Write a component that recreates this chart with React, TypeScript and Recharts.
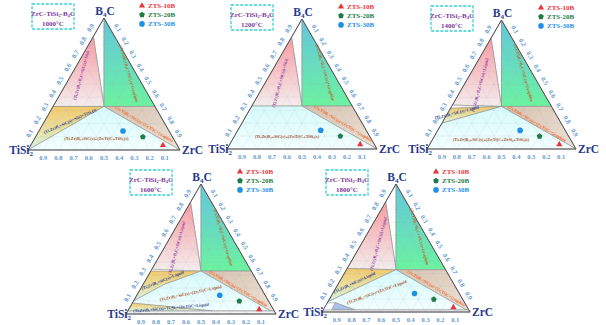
import React from "react"
import { Scatter, ScatterChart, XAxis, YAxis } from "recharts"

// compositions are [B4C, ZrC] fractions, TiSi2 is the remainder
type Comp = [number, number]

const H = Math.sqrt(3) / 2
const SERIF = "'Liberation Serif', 'DejaVu Serif', serif"

const temperatures = ["1000°C", "1200°C", "1400°C", "1600°C", "1800°C"]
const tickValues = [0.1, 0.2, 0.3, 0.4, 0.5, 0.6, 0.7, 0.8, 0.9]

const sampleNames = ["ZTS-10B", "ZTS-20B", "ZTS-30B"]
const sampleB4C = [0.038, 0.099, 0.144]
const sampleZrC = [0.869, 0.706, 0.553]

const vertexNames = ["TiSi2", "B4C", "ZrC"]

// phase field corners
const TOP: Comp = [1, 0]
const TISI2: Comp = [0, 0]
const ZRC: Comp = [0, 1]
const MID: Comp = [0.33, 0.335]
const MID_R: Comp = [0.33, 0.67]
const PINK_TOP: Comp = [0.86, 0]

type Field = { kind: string; pts: Comp[] }

const upper = (pinkLow: number): Field[] => [
  { kind: "wedge", pts: [TOP, PINK_TOP, MID] },
  { kind: "pink", pts: [PINK_TOP, [pinkLow, 0], MID] },
  { kind: "green", pts: [TOP, MID, MID_R] },
  { kind: "brown", pts: [MID, MID_R, ZRC] },
]

const fields1000: Field[] = [
  ...upper(0.33),
  { kind: "yellow", pts: [[0.33, 0], MID, TISI2] },
  { kind: "cyan", pts: [TISI2, MID, ZRC] },
]
const fields1200: Field[] = [
  ...upper(0.33),
  { kind: "cyan", pts: [[0.33, 0], MID, ZRC, TISI2] },
]
const fields1400: Field[] = [
  ...upper(0.34),
  { kind: "wedge", pts: [[0.34, 0], [0.315, 0], MID] },
  { kind: "yellow", pts: [[0.315, 0], MID, [0.2, 0]] },
  { kind: "cyan", pts: [[0.2, 0], MID, ZRC, TISI2] },
]
const fields1600: Field[] = [
  ...upper(0.345),
  { kind: "yellow", pts: [[0.33, 0], MID, [0.225, 0.1375], [0.1, 0]] },
  { kind: "cyan", pts: [[0.1, 0], [0.225, 0.1375], MID, ZRC, [0.023, 0.977], [0.023, 0.568], [0.084, 0]] },
  { kind: "yellow", pts: [[0.084, 0], [0.023, 0.568], [0.023, 0]] },
  { kind: "strip", pts: [[0.023, 0], [0.023, 0.977], ZRC, TISI2] },
]
const fields1800: Field[] = [
  ...upper(0.34),
  { kind: "yellow", pts: [[0.34, 0], MID, [0.08, 0]] },
  { kind: "cyan", pts: [[0.08, 0], MID, ZRC, [0.016, 0.984], [0.016, 0.215], [0.073, 0.052], [0.07, 0]] },
  { kind: "blue", pts: [[0.073, 0.052], [0.016, 0.215], [0.016, 0.057]] },
  { kind: "strip", pts: [[0.016, 0], [0.016, 0.984], ZRC, TISI2] },
]

const TXT = {
  pink: "#9a3fa6",
  green: "#bb6a2c",
  brown: "#f0661c",
  yellow: "#2b3d8a",
  cyan: "#a4522a",
}

const BORIDE_SI = "(Ti,Zr)B₂+B₄C+SiC(s)+Si(s)"
const BORIDE_LIQ = "(Ti,Zr)B₂+B₄C+SiC(s)+Liquid"
const GREEN_TXT = "(Zr,Ti)B₂+B₄C+SiC(s)+Graphite"
const BROWN_TXT = "(Zr,Ti)B₂+SiC(s)+(Zr,Ti)C+Graphite"

// annotation layout, plot units
const labels1000 = [
  { text: BORIDE_SI, x: 0.35, y: 0.49, rot: -75, color: TXT.pink },
  { text: GREEN_TXT, x: 0.665, y: 0.5, rot: 74, color: TXT.green },
  { text: BROWN_TXT, x: 0.765, y: 0.17, rot: 31, color: TXT.brown },
  { text: "(Ti,Zr)B₂+SiC(s)+Si(s)+TiSi₂(s)", x: 0.276, y: 0.19, rot: -24, color: TXT.yellow },
  { text: "(Ti,Zr)B₂+SiC(s)+(Zr,Ti)C+TiSi₂(s)", x: 0.45, y: 0.075, rot: 0, color: TXT.cyan },
]
const labels1200 = [
  { text: BORIDE_SI, x: 0.353, y: 0.44, rot: -75, color: TXT.pink },
  { text: GREEN_TXT, x: 0.655, y: 0.51, rot: 74, color: TXT.green },
  { text: BROWN_TXT, x: 0.776, y: 0.17, rot: 31, color: TXT.brown },
  { text: "(Ti,Zr)B₂+SiC(s)+(Zr,Ti)C+TiSi₂(s)", x: 0.4, y: 0.085, rot: 0, color: TXT.cyan },
]
const labels1400 = [
  { text: BORIDE_LIQ, x: 0.356, y: 0.43, rot: -75, color: TXT.pink },
  { text: GREEN_TXT, x: 0.65, y: 0.51, rot: 74, color: TXT.green },
  { text: BROWN_TXT, x: 0.74, y: 0.17, rot: 31, color: TXT.brown },
  { text: "(Ti,Zr)B₂+SiC(s)+Liquid", x: 0.2, y: 0.245, rot: -14, color: TXT.yellow },
  { text: "(Ti,Zr)B₂+SiC(s)+(Zr,Ti)C+ZrSi₂+TiSi₂(s)", x: 0.43, y: 0.065, rot: 0, color: TXT.cyan },
]
const labels1600 = [
  { text: BORIDE_LIQ, x: 0.338, y: 0.44, rot: -75, color: TXT.pink },
  { text: GREEN_TXT, x: 0.65, y: 0.51, rot: 74, color: TXT.green },
  { text: BROWN_TXT, x: 0.75, y: 0.17, rot: 31, color: TXT.brown },
  { text: "(Ti,Zr)B₂+SiC(s)+Liquid", x: 0.245, y: 0.225, rot: -22, color: TXT.yellow },
  { text: "(Ti,Zr)B₂+SiC(s)+(Zr,Ti)C+Liquid", x: 0.43, y: 0.14, rot: -12, color: TXT.cyan },
  { text: "(Ti,Zr)B₂+SiC(s)+Ti₅Si₃+(Zr,Ti)C+Liquid", x: 0.3, y: 0.042, rot: -5, color: TXT.yellow },
]
const labels1800 = [
  { text: BORIDE_LIQ, x: 0.38, y: 0.46, rot: -75, color: TXT.pink },
  { text: GREEN_TXT, x: 0.66, y: 0.51, rot: 74, color: TXT.green },
  { text: BROWN_TXT, x: 0.775, y: 0.16, rot: 31, color: TXT.brown },
  { text: "(Ti,Zr)B₂+SiC(s)+Liquid", x: 0.22, y: 0.2, rot: -25, color: TXT.yellow },
  { text: "(Ti,Zr)B₂+SiC(s)+(Zr,Ti)C+Liquid", x: 0.37, y: 0.135, rot: -20, color: TXT.cyan },
]

const fieldsByPanel = [fields1000, fields1200, fields1400, fields1600, fields1800]
const labelsByPanel = [labels1000, labels1200, labels1400, labels1600, labels1800]

// where each diagram sits on the page
const panelBoxes = [
  { left: 1, top: 0, base: 152 },
  { left: 200, top: 1, base: 150 },
  { left: 400, top: 2, base: 149 },
  { left: 99, top: 166, base: 150 },
  { left: 295, top: 166, base: 148 },
]

const toXY = ([b, z]: Comp) => ({ x: z + b / 2, y: b * H })
const closed = (pts: Comp[]) => [...pts, pts[0]].map(toXY)

const sampleColors = ["#e8353b", "#1f7c47", "#1e90e6"]

function Marker({ i, cx, cy }: { i: number; cx: number; cy: number }) {
  if (i === 0) {
    return <polygon points={`${cx},${cy - 3.3} ${cx + 3.1},${cy + 2.1} ${cx - 3.1},${cy + 2.1}`} fill={sampleColors[0]} />
  }
  if (i === 1) {
    const pts = [0, 1, 2, 3, 4]
      .map((k) => {
        const a = -Math.PI / 2 + (k * 2 * Math.PI) / 5
        return `${cx + 3 * Math.cos(a)},${cy + 3 * Math.sin(a)}`
      })
      .join(" ")
    return <polygon points={pts} fill={sampleColors[1]} />
  }
  return <circle cx={cx} cy={cy} r={2.8} fill={sampleColors[2]} />
}

const noDot = () => <g />

const fieldLabel = (p: any) => {
  const d = p.payload
  return (
    <text
      x={p.cx}
      y={p.cy}
      transform={`rotate(${d.rot} ${p.cx} ${p.cy})`}
      textAnchor="middle"
      dominantBaseline="central"
      fontSize={4.3}
      fontWeight={700}
      fontFamily={SERIF}
      fill={d.color}
    >
      {d.text}
    </text>
  )
}

const tickText = (dx: number, dy: number, rot: number) => (p: any) => {
  const x = p.cx + dx
  const y = p.cy + dy
  return (
    <text
      x={x}
      y={y}
      transform={rot ? `rotate(${rot} ${x} ${y})` : undefined}
      textAnchor="middle"
      dominantBaseline="central"
      fontSize={6.5}
      fontWeight={700}
      fontFamily={SERIF}
      fill="#6399cf"
    >
      {p.payload.v.toFixed(1)}
    </text>
  )
}

const vertexLabel = (p: any) => {
  const name = p.payload.name
  const common = { fontSize: 11.5, fontWeight: 700, fontFamily: SERIF, fill: "#283a8c" }
  if (name === "B4C") {
    return (
      <text x={p.cx + 1} y={p.cy - 3} textAnchor="middle" {...common}>
        B<tspan fontSize={7} dy={2}>4</tspan>
        <tspan dy={-2}>C</tspan>
      </text>
    )
  }
  if (name === "TiSi2") {
    return (
      <text x={p.cx + 5} y={p.cy + 4} textAnchor="end" {...common}>
        TiSi<tspan fontSize={7} dy={2}>2</tspan>
      </text>
    )
  }
  return (
    <text x={p.cx + 2} y={p.cy + 4} textAnchor="start" {...common}>
      {name}
    </text>
  )
}

const fillFor = (id: string, kind: string) => {
  if (kind === "wedge") return "#ffffff"
  if (kind === "strip") return "#f3f3f3"
  if (kind === "blue") return "#a8c2ea"
  return `url(#${id}-${kind})`
}

function TernaryPanel({ idx }: { idx: number }) {
  const box = panelBoxes[idx]
  const id = `p${idx}`
  const width = box.base + 50
  const height = Math.round(box.base * H) + 32
  const fields = fieldsByPanel[idx]

  const grid: { x: number; y: number }[][] = []
  tickValues.forEach((t) => {
    grid.push([toXY([t, 0]), toXY([t, 1 - t])])
    grid.push([toXY([0, t]), toXY([1 - t, t])])
    grid.push([toXY([1 - t, 0]), toXY([0, 1 - t])])
  })

  const leftTicks = tickValues.map((v) => ({ ...toXY([v, 0]), v }))
  const rightTicks = tickValues.map((v) => ({ ...toXY([1 - v, v]), v }))
  const bottomTicks = tickValues.map((v) => ({ ...toXY([0, 1 - v]), v }))
  const vertices = [TISI2, TOP, ZRC].map((c, i) => ({ ...toXY(c), name: vertexNames[i] }))

  return (
    <div style={{ position: "absolute", left: box.left, top: box.top, width, height }}>
      <ScatterChart width={width} height={height} margin={{ top: 18, right: 23, bottom: 14, left: 27 }}>
        <defs>
          <linearGradient id={`${id}-pink`} x1="0" y1="0" x2="0" y2="1">
            <stop offset="0" stopColor="#f89ca3" />
            <stop offset="1" stopColor="#f4eded" />
          </linearGradient>
          <linearGradient id={`${id}-green`} x1="0" y1="0" x2="0" y2="1">
            <stop offset="0" stopColor="#63c6dc" />
            <stop offset="0.5" stopColor="#67dcc0" />
            <stop offset="1" stopColor="#6cf39f" />
          </linearGradient>
          <linearGradient id={`${id}-brown`} x1="0" y1="0" x2="1" y2="1">
            <stop offset="0" stopColor="#d7c2af" />
            <stop offset="1" stopColor="#eee3d8" />
          </linearGradient>
          <linearGradient id={`${id}-yellow`} x1="0" y1="0" x2="0" y2="1">
            <stop offset="0" stopColor="#f2c96c" />
            <stop offset="0.6" stopColor="#e8e4aa" />
            <stop offset="1" stopColor="#d2f2ea" />
          </linearGradient>
          <linearGradient id={`${id}-cyan`} x1="0" y1="0" x2="0" y2="1">
            <stop offset="0" stopColor="#d6fafb" />
            <stop offset="1" stopColor="#f3fefe" />
          </linearGradient>
        </defs>
        <XAxis type="number" dataKey="x" domain={[0, 1]} hide />
        <YAxis type="number" dataKey="y" domain={[0, H]} hide />
        {fields.map((f, i) => (
          <Scatter
            key={`f${i}`}
            data={closed(f.pts)}
            line={{ fill: fillFor(id, f.kind), stroke: "#909090", strokeWidth: 0.6 }}
            shape={noDot}
            isAnimationActive={false}
          />
        ))}
        {grid.map((g, i) => (
          <Scatter
            key={`g${i}`}
            data={g}
            line={{ stroke: "#9aaabb", strokeWidth: 0.4, strokeOpacity: 0.3 }}
            shape={noDot}
            isAnimationActive={false}
          />
        ))}
        <Scatter
          data={closed([TISI2, TOP, ZRC])}
          line={{ fill: "none", stroke: "#505050", strokeWidth: 1 }}
          shape={noDot}
          isAnimationActive={false}
        />
        <Scatter data={labelsByPanel[idx]} shape={fieldLabel} isAnimationActive={false} />
        <Scatter data={leftTicks} shape={tickText(-6.3, -3.6, -60)} isAnimationActive={false} />
        <Scatter data={rightTicks} shape={tickText(6.3, -3.6, 60)} isAnimationActive={false} />
        <Scatter data={bottomTicks} shape={tickText(0, 7, 0)} isAnimationActive={false} />
        <Scatter data={vertices} shape={vertexLabel} isAnimationActive={false} />
        {sampleNames.map((name, i) => (
          <Scatter
            key={name}
            name={name}
            data={[toXY([sampleB4C[i], sampleZrC[i]])]}
            shape={(p: any) => <Marker i={i} cx={p.cx} cy={p.cy} />}
            isAnimationActive={false}
          />
        ))}
      </ScatterChart>
      <svg width={width} height={40} style={{ position: "absolute", left: 0, top: 0, overflow: "visible" }}>
        <rect x={31} y={4} width={42} height={25} fill="none" stroke="#34cfd2" strokeWidth={1.3} strokeDasharray="3 1.6" />
        <text x={52} y={15.5} textAnchor="middle" fontSize={7} fontWeight={700} fontFamily={SERIF} fill="#7e3a9c">
          ZrC-TiSi<tspan fontSize={4.5} dy={1.5}>2</tspan>
          <tspan dy={-1.5}>-B</tspan>
          <tspan fontSize={4.5} dy={1.5}>4</tspan>
          <tspan dy={-1.5}>C</tspan>
        </text>
        <text x={52} y={26} textAnchor="middle" fontSize={7} fontWeight={700} fontFamily={SERIF} fill="#7e3a9c">
          {temperatures[idx]}
        </text>
        {sampleNames.map((name, i) => (
          <g key={name}>
            <Marker i={i} cx={141} cy={5.5 + i * 9.2} />
            <text x={147} y={8 + i * 9.2} fontSize={7} fontWeight={700} fontFamily={SERIF} fill={sampleColors[i]}>
              {name}
            </text>
          </g>
        ))}
      </svg>
    </div>
  )
}

export default function App() {
  return (
    <div style={{ position: "relative", width: 606, height: 325, background: "#ffffff", overflow: "hidden" }}>
      <style>{"body{margin:0}"}</style>
      {temperatures.map((t, i) => (
        <TernaryPanel key={t} idx={i} />
      ))}
    </div>
  )
}
